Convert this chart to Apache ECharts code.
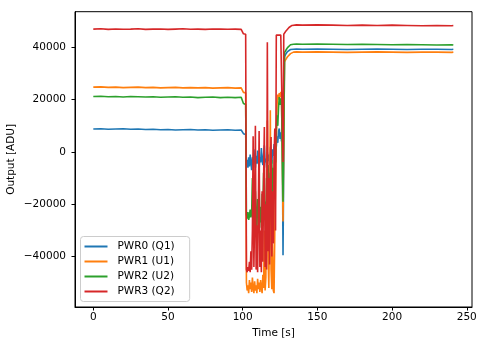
<!DOCTYPE html>
<html><head><meta charset="utf-8">
<script src="https://cdn.jsdelivr.net/npm/echarts@6/dist/echarts.min.js"></script>
<style>html,body{margin:0;padding:0;background:#fff}#c{width:485px;height:347px}</style>
</head><body><div id="c"></div>
<script>
const time = [0,5,10,15,20,25,30,35,40,45,50,55,60,65,70,75,80,85,90,95,99,100.5,102,
102.5,103,103.5,104,104.5,105,105.5,106,106.5,107,
107.5,108,108.5,109,109.5,110,110.5,111,111.5,112,
112.5,113,113.5,114,114.5,115,115.5,116,116.5,117,
117.5,118,118.5,119,119.5,120,120.5,121,121.5,122,
122.5,123,123.5,124,124.5,125,125.5,126,126.5,127,
127.5,128,
129,130,131,132,133,134,136,140,150,160,170,180,190,200,210,220,230,240,241];

const pwr0 = [8800,8900,8700,8800,8900,8700,8800,8600,8700,8500,8600,8400,8500,8600,8400,8500,8300,8400,8500,8300,8400,7000,6700,
-5000,-3000,-6000,-2000,-5500,-1000,-4000,-7000,-2000,-5000,
1000,-3000,-6000,-1500,-4500,500,-3500,-6500,-2000,-4000,
1500,-3000,-5000,-1000,2500,-4000,-2500,-6000,0,-3500,
-1000,-5000,2000,-2000,-4500,1000,-1500,3000,500,4000,
2000,6000,3500,8000,9000,5000,7500,4000,6000,-39500,
-39000,36500,
37600,38400,38900,39200,39300,39300,39400,39300,39400,39300,39200,39300,39400,39300,39200,39300,39300,39200,39300];

const pwr1 = [24800,24900,24700,24800,24600,24700,24800,24600,24700,24500,24600,24700,24500,24600,24500,24600,24400,24500,24600,24400,24500,22800,22600,
-50000,-53000,-51000,-54000,-49000,-52500,-50000,-53500,-48000,-52000,
-54000,-49500,-53000,-51000,-54000,-48500,-52500,-50000,-53500,-49000,
-52000,-54000,-47000,-52000,-30000,-53000,-48000,-20000,12000,-40000,
-52000,-25000,16000,-45000,-52500,-35000,-53000,-54000,-30000,-10000,
5000,18000,22000,20000,22500,21000,23000,21500,21000,-26600,
-26000,34500,
35500,36400,37100,37600,38000,38200,38300,38200,38300,38200,38100,38200,38300,38200,38100,38200,38200,38100,38200];

const pwr2 = [21200,21300,21100,21200,21000,21200,21100,21000,21100,20900,21000,21100,20900,21000,20800,20900,21000,20800,20900,20800,20900,18500,18200,
-24000,-25500,-23000,-26000,-24500,-22000,-25000,-23500,-10000,-26000,
-20000,-28000,-15000,-25000,-30000,-18000,-24000,-12000,-27000,-21000,
-29000,-16000,-23000,-8000,-26000,-19000,-25000,-10000,-22000,-5000,
-17000,-24000,-8000,-15000,-3000,-20000,-6000,-12000,2000,-4000,
8000,14000,10000,17000,21000,18000,20500,19000,19500,-19000,
-18500,38000,
39000,39900,40500,41000,41200,41200,41300,41200,41300,41200,41100,41200,41100,41000,41100,41000,40900,41000,40900];

const pwr3 = [47000,47100,46900,47050,46950,47000,47100,46900,47000,47050,46900,47000,47100,46950,47000,46900,47050,47000,46950,47000,46900,45200,45000,
-45000,-46000,-44000,-45500,-42000,-46000,-38000,-45000,-30000,6000,
-44000,-25000,10000,-45000,-28000,-46000,-20000,8000,-44000,-30000,
-46000,-15000,-42000,-10000,9500,-44000,-20000,-45000,42000,-38000,
-10000,-43000,-5000,5700,-40000,-15000,-35000,-2000,9000,-30000,
44700,44800,44600,44700,44800,44600,44700,44800,44700,-3800,
45000,45500,
46300,47000,47600,48100,48400,48500,48600,48500,48600,48500,48400,48500,48400,48500,48400,48300,48400,48300,48400];

const seriesNames = ['PWR0 (Q1)','PWR1 (U1)','PWR2 (U2)','PWR3 (Q2)'];
const colors = ['#1f77b4','#ff7f0e','#2ca02c','#d62728'];
const xTicks = [0,50,100,150,200,250];
const yTicks = [-40000,-20000,0,20000,40000];
const xTitle = 'Time [s]';
const yTitle = 'Output [ADU]';

const chart = echarts.init(document.getElementById('c'), null, {renderer:'canvas'});
const values = [pwr0,pwr1,pwr2,pwr3];
const font = 'DejaVu Sans';
const fs = 10.5;
const fmt = v => String(v).replace('-', '\u2212');
const option = {
  animation:false,
  backgroundColor:'#fff',
  grid:{left:75,right:13,top:11.7,bottom:40,show:true,borderColor:'#000',borderWidth:1,backgroundColor:'transparent',
    containLabel:false,outerBoundsMode:'none'},
  xAxis:{type:'value',min:-12.25,max:253.5,name:xTitle,nameLocation:'middle',nameGap:21,nameMoveOverlap:false,
    nameTextStyle:{fontFamily:font,fontSize:fs,color:'#000'},
    axisLine:{show:true,onZero:false,lineStyle:{color:'#000',width:1}},
    axisTick:{show:true,length:3.5,customValues:xTicks,lineStyle:{color:'#000'}},
    axisLabel:{show:true,customValues:xTicks,margin:5,fontFamily:font,fontSize:fs,color:'#000',formatter:fmt},
    splitLine:{show:false}},
  yAxis:{type:'value',min:-59300,max:53650,name:yTitle,nameLocation:'middle',nameGap:58,nameMoveOverlap:false,
    nameTextStyle:{fontFamily:font,fontSize:fs,color:'#000'},
    axisLine:{show:true,onZero:false,lineStyle:{color:'#000',width:1}},
    axisTick:{show:true,length:3.5,customValues:yTicks,lineStyle:{color:'#000'}},
    axisLabel:{show:true,customValues:yTicks,margin:9,fontFamily:font,fontSize:fs,color:'#000',formatter:fmt},
    splitLine:{show:false}},
  legend:{left:80.5,top:236.5,orient:'vertical',icon:'rect',itemWidth:23,itemHeight:2,itemGap:3,
    padding:[4,15,4,4],backgroundColor:'rgba(255,255,255,0.8)',borderColor:'#cccccc',borderWidth:1,borderRadius:3,
    textStyle:{fontFamily:font,fontSize:fs,color:'#000',padding:[0,0,0,5],lineHeight:12},
    data:seriesNames},
  series: values.map((v,i)=>({type:'line',name:seriesNames[i],data:time.map((t,j)=>[t,v[j]]),
    showSymbol:false,symbol:'none',lineStyle:{width:1.6,color:colors[i]},itemStyle:{color:colors[i]}}))
};
chart.setOption(option);
</script></body></html>
